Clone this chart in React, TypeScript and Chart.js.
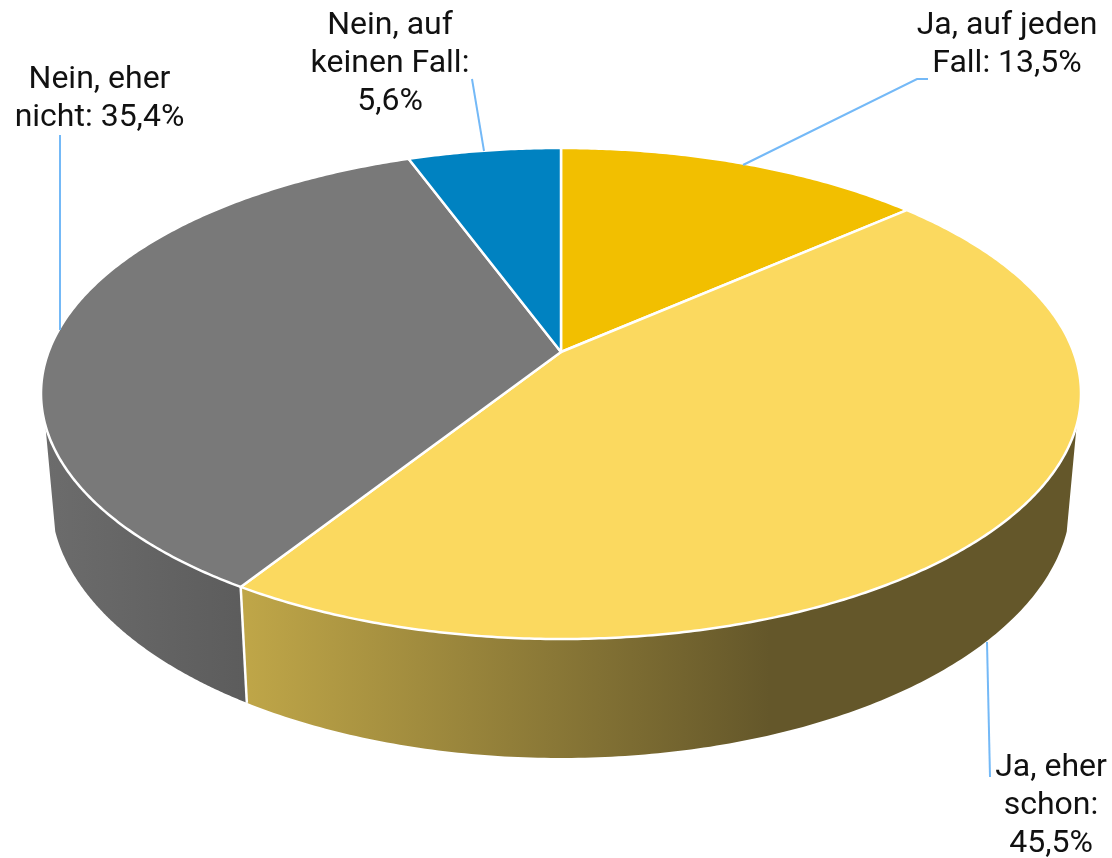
import React, { useEffect, useRef } from "react";
import { Chart, registerables } from "chart.js";

Chart.register(...registerables);

const categories = ["Ja, auf jeden Fall", "Ja, eher schon", "Nein, eher nicht", "Nein, auf keinen Fall"];
const shares = [13.5, 45.5, 35.4, 5.6];
const labelLines = [
  ["Ja, auf jeden", "Fall: 13,5%"],
  ["Ja, eher", "schon:", "45,5%"],
  ["Nein, eher", "nicht: 35,4%"],
  ["Nein, auf", "keinen Fall:", "5,6%"],
];
const topColors = ["#f2bf00", "#fbd95f", "#797979", "#0082c1"];

const X0 = 561;
const PERSP_C = -83 / 491;
const PERSP_A = 179;
const PERSP_B = 352;
const PERSP_S = 512.5;
const TOP_RIM = { cy: 393.5, rx: 520, ry: 245.5 };
const BOTTOM_RIM = { cy: 498, rx: 510, ry: 260 };
const SIL = (7.4 * Math.PI) / 180;

const project = (theta: number) => {
  const u = Math.sin(theta);
  const v = -Math.cos(theta);
  const d = 1 + PERSP_C * v;
  return { x: X0 + (PERSP_S * u) / d, y: (PERSP_A * v + PERSP_B) / d };
};
const rimParam = (theta: number) => {
  const p = project(theta);
  let t = Math.atan2((p.y - TOP_RIM.cy) / TOP_RIM.ry, (p.x - X0) / TOP_RIM.rx);
  if (t < -Math.PI / 2 - 1e-6) t += Math.PI * 2;
  return t;
};
const rimPt = (r: typeof TOP_RIM, t: number) => ({ x: X0 + r.rx * Math.cos(t), y: r.cy + r.ry * Math.sin(t) });

const sideGradient = (ctx: CanvasRenderingContext2D, i: number) => {
  if (i === 1) {
    const g = ctx.createLinearGradient(245, 0, 770, 0);
    g.addColorStop(0, "#bfa648");
    g.addColorStop(1, "#64572a");
    return g;
  }
  const g = ctx.createLinearGradient(45, 0, 248, 0);
  g.addColorStop(0, "#6c6c6c");
  g.addColorStop(1, "#5c5c5c");
  return g;
};

const pie3d = {
  id: "pie3d",
  beforeDatasetsDraw(chart: any) {
    const ctx: CanvasRenderingContext2D = chart.ctx;
    const arcs = chart.getDatasetMeta(0).data;
    ctx.save();
    ctx.lineJoin = "round";
    // side wall of each slice
    arcs.forEach((arc: any, i: number) => {
      const a = arc.startAngle + Math.PI / 2;
      const b = arc.endAngle + Math.PI / 2;
      const t0 = Math.max(rimParam(a), SIL);
      const t1 = Math.min(rimParam(b), Math.PI - SIL);
      if (t1 <= t0) return;
      const n = 160;
      ctx.beginPath();
      for (let k = 0; k <= n; k++) {
        const p = rimPt(TOP_RIM, t0 + ((t1 - t0) * k) / n);
        k ? ctx.lineTo(p.x, p.y) : ctx.moveTo(p.x, p.y);
      }
      for (let k = n; k >= 0; k--) {
        const p = rimPt(BOTTOM_RIM, t0 + ((t1 - t0) * k) / n);
        ctx.lineTo(p.x, p.y);
      }
      ctx.closePath();
      ctx.fillStyle = sideGradient(ctx, i);
      ctx.fill();
    });
    // seam between the side walls
    arcs.forEach((arc: any) => {
      const t = rimParam(arc.endAngle + Math.PI / 2);
      if (t < SIL || t > Math.PI - SIL) return;
      const p = rimPt(TOP_RIM, t);
      const q = rimPt(BOTTOM_RIM, t);
      ctx.beginPath();
      ctx.moveTo(p.x, p.y);
      ctx.lineTo(q.x, q.y);
      ctx.strokeStyle = "#ffffff";
      ctx.lineWidth = 2.5;
      ctx.stroke();
    });
    // top face
    arcs.forEach((arc: any, i: number) => {
      const a = arc.startAngle + Math.PI / 2;
      const b = arc.endAngle + Math.PI / 2;
      const n = Math.max(8, Math.round(((b - a) * 180) / Math.PI) * 2);
      ctx.beginPath();
      ctx.moveTo(X0, PERSP_B);
      for (let k = 0; k <= n; k++) {
        const p = project(a + ((b - a) * k) / n);
        ctx.lineTo(p.x, p.y);
      }
      ctx.closePath();
      ctx.fillStyle = topColors[i];
      ctx.fill();
      ctx.strokeStyle = "#ffffff";
      ctx.lineWidth = 2.5;
      ctx.stroke();
    });
    ctx.restore();
    return false;
  },
  afterDraw(chart: any) {
    const ctx: CanvasRenderingContext2D = chart.ctx;
    ctx.save();
    const leaders = [
      [[928, 79], [917, 79], [743, 165]],
      [[987, 642], [990, 777]],
      [[60, 135], [60, 330]],
      [[472, 79], [484, 151]],
    ];
    ctx.strokeStyle = "#74b9f7";
    ctx.lineWidth = 2;
    leaders.forEach((pts) => {
      ctx.beginPath();
      pts.forEach(([x, y], k) => (k ? ctx.lineTo(x, y) : ctx.moveTo(x, y)));
      ctx.stroke();
    });
    const anchors = [
      [1007, 26],
      [1051, 768],
      [99.5, 80],
      [390, 26],
    ];
    ctx.fillStyle = "#111111";
    ctx.font = "400 32px Roboto";
    ctx.textAlign = "center";
    ctx.textBaseline = "middle";
    labelLines.forEach((lines, i) => {
      lines.forEach((line, k) => ctx.fillText(line, anchors[i][0], anchors[i][1] + k * 38));
    });
    ctx.restore();
  },
};

export default function App() {
  const ref = useRef<HTMLCanvasElement>(null);
  useEffect(() => {
    document.body.style.margin = "0";
    const chart = new Chart(ref.current!, {
      type: "pie",
      data: {
        labels: categories,
        datasets: [{ data: shares, backgroundColor: topColors, borderColor: "#ffffff", borderWidth: 2 }],
      },
      options: {
        responsive: false,
        animation: false,
        plugins: { legend: { display: false }, tooltip: { enabled: false } },
      },
      plugins: [pie3d],
    } as any);
    return () => chart.destroy();
  }, []);
  return <canvas ref={ref} width={1112} height={858} style={{ display: "block" }} />;
}
